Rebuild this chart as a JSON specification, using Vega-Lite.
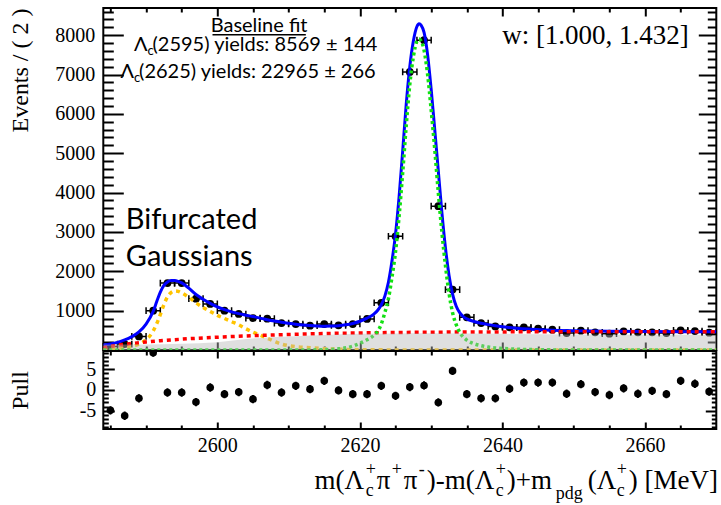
{
  "$schema": "https://vega.github.io/schema/vega-lite/v6.json",
  "autosize": {"type": "pad"},
  "padding": {"left": 7.3, "top": 6, "right": 0, "bottom": 0},
  "background": "white",
  "spacing": 1,
  "bounds": "flush",
  "config": {
    "view": {"stroke": "black", "strokeWidth": 2},
    "axis": {"domain": false, "grid": false, "labelFont": "Liberation Serif", "labelFontSize": 20, "labelColor": "black", "tickColor": "black", "tickWidth": 2, "titleFont": "Liberation Serif", "titleFontWeight": "normal", "titleColor": "black", "zindex": 1, "title": null, "format": "d"}
  },
  "datasets": {
    "pts": [
      {"m":2585,"n":90},{"m":2587,"n":150},{"m":2589,"n":346},{"m":2591,"n":1000},{"m":2593,"n":1700},{"m":2595,"n":1700},{"m":2597,"n":1305},{"m":2599,"n":1170},{"m":2601,"n":1000},{"m":2603,"n":915},{"m":2605,"n":812},{"m":2607,"n":797},{"m":2609,"n":685},{"m":2611,"n":660},{"m":2613,"n":618},{"m":2615,"n":660},{"m":2617,"n":626},{"m":2619,"n":660},{"m":2621,"n":790},{"m":2623,"n":1200},{"m":2625,"n":2890},{"m":2627,"n":7066},{"m":2629,"n":7873},{"m":2631,"n":3655},{"m":2633,"n":1535},{"m":2635,"n":830},{"m":2637,"n":685},{"m":2639,"n":600},{"m":2641,"n":575},{"m":2643,"n":575},{"m":2645,"n":542},{"m":2647,"n":517},{"m":2649,"n":430},{"m":2651,"n":491},{"m":2653,"n":450},{"m":2655,"n":415},{"m":2657,"n":473},{"m":2659,"n":448},{"m":2661,"n":448},{"m":2663,"n":430},{"m":2665,"n":500},{"m":2667,"n":480},{"m":2669,"n":440}
    ],
    "pull": [
      {"m":2585,"p":-4.9},{"m":2587,"p":-6.2},{"m":2589,"p":-2.0},{"m":2591,"p":9.0},{"m":2593,"p":-0.6},{"m":2595,"p":-0.6},{"m":2597,"p":-2.9},{"m":2599,"p":0.6},{"m":2601,"p":-1.0},{"m":2603,"p":-0.5},{"m":2605,"p":-2.2},{"m":2607,"p":1.2},{"m":2609,"p":-0.6},{"m":2611,"p":1.0},{"m":2613,"p":0.2},{"m":2615,"p":2.2},{"m":2617,"p":-0.1},{"m":2619,"p":-1.0},{"m":2621,"p":-1.0},{"m":2623,"p":1.0},{"m":2625,"p":-1.4},{"m":2627,"p":0.7},{"m":2629,"p":1.1},{"m":2631,"p":-3.0},{"m":2633,"p":4.6},{"m":2635,"p":-1.0},{"m":2637,"p":-2.0},{"m":2639,"p":-2.0},{"m":2641,"p":0.3},{"m":2643,"p":1.8},{"m":2645,"p":1.8},{"m":2647,"p":1.8},{"m":2649,"p":-0.9},{"m":2651,"p":1.4},{"m":2653,"p":-0.5},{"m":2655,"p":-1.2},{"m":2657,"p":0.4},{"m":2659,"p":-0.9},{"m":2661,"p":-0.2},{"m":2663,"p":-1.0},{"m":2665,"p":2.2},{"m":2667,"p":1.5},{"m":2669,"p":-0.4}
    ],
    "total": [
      {"m":2584,"v":130},{"m":2585,"v":155},{"m":2586,"v":195},{"m":2587,"v":255},{"m":2588,"v":340},{"m":2589,"v":460},{"m":2590,"v":660},{"m":2591,"v":980},{"m":2591.5,"v":1230},{"m":2592,"v":1470},{"m":2592.5,"v":1640},{"m":2593,"v":1730},{"m":2593.5,"v":1765},{"m":2594,"v":1765},{"m":2594.5,"v":1745},{"m":2595,"v":1705},{"m":2596,"v":1570},{"m":2597,"v":1410},{"m":2598,"v":1290},{"m":2599,"v":1185},{"m":2600,"v":1095},{"m":2601,"v":1025},{"m":2602,"v":970},{"m":2603,"v":925},{"m":2604,"v":885},{"m":2605,"v":850},{"m":2606,"v":810},{"m":2607,"v":770},{"m":2608,"v":735},{"m":2609,"v":705},{"m":2610,"v":680},{"m":2611,"v":655},{"m":2612,"v":635},{"m":2613,"v":620},{"m":2614,"v":610},{"m":2615,"v":605},{"m":2616,"v":607},{"m":2617,"v":618},{"m":2618,"v":640},{"m":2619,"v":675},{"m":2620,"v":730},{"m":2621,"v":810},{"m":2622,"v":920},{"m":2622.5,"v":1010},{"m":2623,"v":1150},{"m":2623.5,"v":1370},{"m":2624,"v":1720},{"m":2624.5,"v":2260},{"m":2625,"v":2950},{"m":2625.5,"v":3900},{"m":2626,"v":5050},{"m":2626.5,"v":6250},{"m":2627,"v":7200},{"m":2627.5,"v":7850},{"m":2628,"v":8220},{"m":2628.3,"v":8290},{"m":2628.6,"v":8250},{"m":2629,"v":8070},{"m":2629.5,"v":7500},{"m":2630,"v":6620},{"m":2630.5,"v":5600},{"m":2631,"v":4550},{"m":2631.5,"v":3500},{"m":2632,"v":2600},{"m":2632.5,"v":1900},{"m":2633,"v":1420},{"m":2633.5,"v":1120},{"m":2634,"v":950},{"m":2634.5,"v":850},{"m":2635,"v":790},{"m":2636,"v":725},{"m":2637,"v":680},{"m":2638,"v":645},{"m":2639,"v":615},{"m":2640,"v":590},{"m":2641,"v":570},{"m":2642,"v":552},{"m":2644,"v":528},{"m":2646,"v":510},{"m":2648,"v":498},{"m":2650,"v":490},{"m":2655,"v":478},{"m":2660,"v":470},{"m":2665,"v":466},{"m":2670,"v":463}
    ],
    "lc2625": [
      {"m":2584,"v":0},{"m":2612,"v":0},{"m":2614,"v":5},{"m":2616,"v":15},{"m":2617,"v":30},{"m":2618,"v":55},{"m":2619,"v":100},{"m":2620,"v":170},{"m":2621,"v":260},{"m":2622,"v":380},{"m":2622.5,"v":480},{"m":2623,"v":660},{"m":2623.5,"v":950},{"m":2624,"v":1300},{"m":2624.5,"v":1850},{"m":2625,"v":2500},{"m":2625.5,"v":3400},{"m":2626,"v":4500},{"m":2626.5,"v":5700},{"m":2627,"v":6750},{"m":2627.5,"v":7450},{"m":2628,"v":7850},{"m":2628.3,"v":7900},{"m":2628.6,"v":7850},{"m":2629,"v":7620},{"m":2629.5,"v":7000},{"m":2630,"v":6100},{"m":2630.5,"v":5100},{"m":2631,"v":4000},{"m":2631.5,"v":3000},{"m":2632,"v":2150},{"m":2632.5,"v":1450},{"m":2633,"v":950},{"m":2633.5,"v":650},{"m":2634,"v":450},{"m":2635,"v":250},{"m":2636,"v":160},{"m":2637,"v":110},{"m":2638,"v":75},{"m":2640,"v":40},{"m":2642,"v":20},{"m":2645,"v":8},{"m":2650,"v":0},{"m":2670,"v":0}
    ],
    "lc2595": [
      {"m":2584,"v":15},{"m":2586,"v":40},{"m":2588,"v":90},{"m":2589,"v":150},{"m":2590,"v":260},{"m":2591,"v":480},{"m":2592,"v":900},{"m":2592.5,"v":1150},{"m":2593,"v":1350},{"m":2593.5,"v":1460},{"m":2594,"v":1500},{"m":2594.5,"v":1490},{"m":2595,"v":1450},{"m":2596,"v":1340},{"m":2597,"v":1200},{"m":2598,"v":1080},{"m":2599,"v":980},{"m":2600,"v":880},{"m":2601,"v":800},{"m":2602,"v":720},{"m":2603,"v":640},{"m":2604,"v":540},{"m":2605,"v":450},{"m":2606,"v":380},{"m":2607,"v":300},{"m":2608,"v":220},{"m":2609,"v":150},{"m":2610,"v":110},{"m":2611,"v":85},{"m":2613,"v":60},{"m":2615,"v":35},{"m":2618,"v":15},{"m":2622,"v":5},{"m":2630,"v":0},{"m":2670,"v":0}
    ],
    "bkg": [
      {"m":2584,"v":60},{"m":2586,"v":120},{"m":2588,"v":165},{"m":2590,"v":205},{"m":2592,"v":235},{"m":2595,"v":275},{"m":2600,"v":325},{"m":2605,"v":365},{"m":2610,"v":395},{"m":2615,"v":418},{"m":2620,"v":433},{"m":2625,"v":445},{"m":2630,"v":452},{"m":2640,"v":460},{"m":2650,"v":463},{"m":2660,"v":463},{"m":2670,"v":462}
    ],
    "shade": [
      {"m":2584,"v":140},{"m":2590,"v":140},{"m":2595,"v":160},{"m":2600,"v":200},{"m":2605,"v":290},{"m":2610,"v":340},{"m":2615,"v":380},{"m":2620,"v":410},{"m":2625,"v":420},{"m":2630,"v":425},{"m":2640,"v":410},{"m":2650,"v":395},{"m":2660,"v":385},{"m":2670,"v":380}
    ]
  },
  "vconcat": [
    {
      "width": 613,
      "height": 342,
      "resolve": {"axis": {"x": "independent", "y": "independent"}},
      "layer": [
        {
          "data": {"name": "pts"},
          "mark": {"type": "circle", "size": 60, "color": "black", "opacity": 1},
          "encoding": {
            "x": {"field": "m", "type": "quantitative", "scale": {"domain": [2584, 2670], "nice": false, "zero": false}, "axis": {"orient": "bottom", "values": [2600, 2620, 2640, 2660], "tickSize": -8, "labels": false}},
            "y": {"field": "n", "type": "quantitative", "scale": {"domain": [0, 8690], "nice": false, "zero": false}, "axis": {"orient": "left", "values": [1000, 2000, 3000, 4000, 5000, 6000, 7000, 8000], "tickSize": -20, "labelPadding": 28.5, "title": "Events / ( 2 )", "titleFontSize": 24, "titleAngle": 270, "titleAnchor": "end", "titleAlign": "right", "titleBaseline": "alphabetic", "titleX": -76, "titleY": 0}}
          }
        },
        {
          "data": {"name": "pts"},
          "mark": {"type": "point", "shape": "M -1 0 L 1 0 M -1 -0.47 L -1 0.47 M 1 -0.47 L 1 0.47", "size": 203, "filled": false, "stroke": "black", "strokeWidth": 1.5, "opacity": 1},
          "encoding": {
            "x": {"field": "m", "type": "quantitative", "scale": {"domain": [2584, 2670], "nice": false, "zero": false}, "axis": {"orient": "bottom", "values": [2585, 2590, 2595, 2605, 2610, 2615, 2625, 2630, 2635, 2645, 2650, 2655, 2665], "tickSize": -4, "labels": false}},
            "y": {"field": "n", "type": "quantitative", "scale": {"domain": [0, 8690], "nice": false, "zero": false}, "axis": {"orient": "left", "values": [200,400,600,800,1200,1400,1600,1800,2200,2400,2600,2800,3200,3400,3600,3800,4200,4400,4600,4800,5200,5400,5600,5800,6200,6400,6600,6800,7200,7400,7600,7800,8200,8400,8600], "tickSize": -10, "labels": false}}
          }
        },
        {
          "data": {"name": "total"},
          "mark": {"type": "line", "color": "#0000ff", "strokeWidth": 3, "interpolate": "monotone", "clip": true},
          "encoding": {
            "x": {"field": "m", "type": "quantitative", "scale": {"domain": [2584, 2670], "nice": false, "zero": false}, "axis": {"orient": "top", "values": [2600, 2620, 2640, 2660], "tickSize": -8, "labels": false}},
            "y": {"field": "v", "type": "quantitative", "scale": {"domain": [0, 8690], "nice": false, "zero": false}, "axis": {"orient": "right", "values": [1000, 2000, 3000, 4000, 5000, 6000, 7000, 8000], "tickSize": -18, "labels": false}}
          }
        },
        {
          "data": {"name": "lc2595"},
          "mark": {"type": "line", "color": "#ffc400", "strokeWidth": 3.5, "strokeDash": [4, 4], "interpolate": "monotone", "clip": true},
          "encoding": {
            "x": {"field": "m", "type": "quantitative", "scale": {"domain": [2584, 2670], "nice": false, "zero": false}, "axis": {"orient": "top", "values": [2585, 2590, 2595, 2605, 2610, 2615, 2625, 2630, 2635, 2645, 2650, 2655, 2665], "tickSize": -4, "labels": false}},
            "y": {"field": "v", "type": "quantitative", "scale": {"domain": [0, 8690], "nice": false, "zero": false}, "axis": {"orient": "right", "values": [200,400,600,800,1200,1400,1600,1800,2200,2400,2600,2800,3200,3400,3600,3800,4200,4400,4600,4800,5200,5400,5600,5800,6200,6400,6600,6800,7200,7400,7600,7800,8200,8400,8600], "tickSize": -9, "labels": false}}
          }
        },
        {
          "data": {"name": "bkg"},
          "mark": {"type": "line", "color": "#ff0000", "strokeWidth": 3.5, "strokeDash": [4, 4], "interpolate": "monotone", "clip": true},
          "encoding": {
            "x": {"field": "m", "type": "quantitative", "axis": null},
            "y": {"field": "v", "type": "quantitative", "axis": null}
          }
        },
        {
          "data": {"name": "lc2625"},
          "mark": {"type": "line", "color": "#11e011", "strokeWidth": 3.5, "strokeDash": [3, 3], "interpolate": "monotone", "clip": true},
          "encoding": {
            "x": {"field": "m", "type": "quantitative", "axis": null},
            "y": {"field": "v", "type": "quantitative", "axis": null}
          }
        },
        {
          "data": {"name": "shade"},
          "mark": {"type": "area", "color": "#b8b8b8", "opacity": 0.45, "interpolate": "monotone", "clip": true},
          "encoding": {
            "x": {"field": "m", "type": "quantitative", "axis": null},
            "y": {"field": "v", "type": "quantitative", "axis": null}
          }
        },
        {
          "data": {"values": [{"m": 2605.86, "v": 8080, "t": "Baseline fit"}]},
          "mark": {"type": "text", "font": "Lato", "fontSize": 20, "align": "center", "baseline": "alphabetic", "color": "black"},
          "encoding": {
            "x": {"field": "m", "type": "quantitative", "axis": null},
            "y": {"field": "v", "type": "quantitative", "axis": null},
            "text": {"field": "t"}
          }
        },
        {
          "data": {"values": [{"m": 2599.32, "m2": 2612.41, "v": 8010}]},
          "mark": {"type": "rule", "color": "black", "strokeWidth": 1.5},
          "encoding": {
            "x": {"field": "m", "type": "quantitative", "axis": null},
            "x2": {"field": "m2"},
            "y": {"field": "v", "type": "quantitative", "axis": null}
          }
        },
        {
          "data": {"values": [{"m": 2590.2, "v": 7597, "t": "Λ"}, {"m": 2588.32, "v": 6904, "t": "Λ"}]},
          "mark": {"type": "text", "font": "Lato", "fontSize": 20, "align": "right", "baseline": "alphabetic", "color": "black"},
          "encoding": {
            "x": {"field": "m", "type": "quantitative", "axis": null},
            "y": {"field": "v", "type": "quantitative", "axis": null},
            "text": {"field": "t"}
          }
        },
        {
          "data": {"values": [{"m": 2590.2, "v": 7495, "t": "c"}, {"m": 2588.32, "v": 6802, "t": "c"}]},
          "mark": {"type": "text", "font": "Lato", "fontSize": 13, "align": "left", "baseline": "alphabetic", "color": "black"},
          "encoding": {
            "x": {"field": "m", "type": "quantitative", "axis": null},
            "y": {"field": "v", "type": "quantitative", "axis": null},
            "text": {"field": "t"}
          }
        },
        {
          "data": {"values": [{"m": 2590.9, "v": 7597, "t": "(2595) yields: 8569 ± 144"}, {"m": 2589.02, "v": 6904, "t": "(2625) yields: 22965 ± 266"}]},
          "mark": {"type": "text", "font": "Lato", "fontSize": 20, "align": "left", "baseline": "alphabetic", "color": "black"},
          "encoding": {
            "x": {"field": "m", "type": "quantitative", "axis": null},
            "y": {"field": "v", "type": "quantitative", "axis": null},
            "text": {"field": "t"}
          }
        },
        {
          "data": {"values": [{"m": 2587.16, "v": 3082, "t": "Bifurcated"}, {"m": 2587.16, "v": 2134, "t": "Gaussians"}]},
          "mark": {"type": "text", "font": "Lato", "fontSize": 29, "align": "left", "baseline": "alphabetic", "color": "black"},
          "encoding": {
            "x": {"field": "m", "type": "quantitative", "axis": null},
            "y": {"field": "v", "type": "quantitative", "axis": null},
            "text": {"field": "t"}
          }
        },
        {
          "data": {"values": [{"m": 2666.14, "v": 7768, "t": "w: [1.000, 1.432]"}]},
          "mark": {"type": "text", "font": "Liberation Serif", "fontSize": 27, "align": "right", "baseline": "alphabetic", "color": "black"},
          "encoding": {
            "x": {"field": "m", "type": "quantitative", "axis": null},
            "y": {"field": "v", "type": "quantitative", "axis": null},
            "text": {"field": "t"}
          }
        }
      ]
    },
    {
      "width": 613,
      "height": 78,
      "resolve": {"axis": {"x": "independent", "y": "independent"}},
      "layer": [
        {
          "data": {"name": "pull"},
          "mark": {"type": "circle", "size": 58, "color": "black", "opacity": 1, "clip": true},
          "encoding": {
            "x": {"field": "m", "type": "quantitative", "scale": {"domain": [2584, 2670], "nice": false, "zero": false}, "axis": {"orient": "bottom", "values": [2600, 2620, 2640, 2660], "tickSize": -7, "labelPadding": 14, "labelBaseline": "top"}},
            "y": {"field": "p", "type": "quantitative", "scale": {"domain": [-9.4, 9.4], "nice": false, "zero": false}, "axis": {"orient": "left", "values": [-5, 0, 5], "tickSize": -11, "labelPadding": 18.5, "labelExpr": "datum.value < 0 ? '-' + abs(datum.value) : '' + datum.value", "title": "Pull", "titleFontSize": 24, "titleAngle": 270, "titleAnchor": "middle", "titleAlign": "center", "titleBaseline": "alphabetic", "titleX": -76}}
          }
        },
        {
          "data": {"name": "pull"},
          "mark": {"type": "point", "shape": "M 0 -1 L 0 1", "size": 69, "filled": false, "stroke": "black", "strokeWidth": 2, "opacity": 1, "clip": true},
          "encoding": {
            "x": {"field": "m", "type": "quantitative", "scale": {"domain": [2584, 2670], "nice": false, "zero": false}, "axis": {"orient": "bottom", "values": [2585, 2590, 2595, 2605, 2610, 2615, 2625, 2630, 2635, 2645, 2650, 2655, 2665], "tickSize": -4, "labels": false}},
            "y": {"field": "p", "type": "quantitative", "scale": {"domain": [-9.4, 9.4], "nice": false, "zero": false}, "axis": {"orient": "left", "values": [-9, -8, -7, -6, -4, -3, -2, -1, 1, 2, 3, 4, 6, 7, 8, 9], "tickSize": -5, "labels": false}}
          }
        },
        {
          "data": {"values": [
            {"m": 2613.63, "u": -23.86, "t": "m(Λ"},
            {"m": 2622.38, "u": -23.86, "t": "π"},
            {"m": 2626.16, "u": -23.86, "t": "π"},
            {"m": 2629.39, "u": -23.86, "t": ")-m(Λ"},
            {"m": 2640.61, "u": -23.86, "t": ")+m"},
            {"m": 2651.97, "u": -23.86, "t": "(Λ"},
            {"m": 2657.73, "u": -23.86, "t": ") [MeV]"}
          ]},
          "mark": {"type": "text", "font": "Liberation Serif", "fontSize": 27, "align": "left", "baseline": "alphabetic", "color": "black"},
          "encoding": {
            "x": {"field": "m", "type": "quantitative", "scale": {"domain": [2584, 2670], "nice": false, "zero": false}, "axis": {"orient": "top", "values": [2600, 2620, 2640, 2660], "tickSize": -7, "labels": false}},
            "y": {"field": "u", "type": "quantitative", "scale": {"domain": [-9.4, 9.4], "nice": false, "zero": false}, "axis": {"orient": "right", "values": [-5, 0, 5], "tickSize": -11, "labels": false}},
            "text": {"field": "t"}
          }
        },
        {
          "data": {"values": [
            {"m": 2620.83, "u": -25.5, "t": "c"},
            {"m": 2639.07, "u": -25.5, "t": "c"},
            {"m": 2656.04, "u": -25.5, "t": "c"},
            {"m": 2647.48, "u": -26.3, "t": "pdg"}
          ]},
          "mark": {"type": "text", "font": "Liberation Serif", "fontSize": 18, "align": "left", "baseline": "alphabetic", "color": "black"},
          "encoding": {
            "x": {"field": "m", "type": "quantitative", "scale": {"domain": [2584, 2670], "nice": false, "zero": false}, "axis": {"orient": "top", "values": [2585, 2590, 2595, 2605, 2610, 2615, 2625, 2630, 2635, 2645, 2650, 2655, 2665], "tickSize": -4, "labels": false}},
            "y": {"field": "u", "type": "quantitative", "scale": {"domain": [-9.4, 9.4], "nice": false, "zero": false}, "axis": {"orient": "right", "values": [-9, -8, -7, -6, -4, -3, -2, -1, 1, 2, 3, 4, 6, 7, 8, 9], "tickSize": -5, "labels": false}},
            "text": {"field": "t"}
          }
        },
        {
          "data": {"values": [
            {"m": 2620.83, "u": -20.5, "t": "+"},
            {"m": 2624.48, "u": -20.5, "t": "+"},
            {"m": 2628.26, "u": -20.5, "t": "-"},
            {"m": 2639.07, "u": -20.5, "t": "+"},
            {"m": 2656.04, "u": -20.5, "t": "+"}
          ]},
          "mark": {"type": "text", "font": "Liberation Serif", "fontSize": 18, "align": "left", "baseline": "alphabetic", "color": "black"},
          "encoding": {
            "x": {"field": "m", "type": "quantitative", "axis": null},
            "y": {"field": "u", "type": "quantitative", "axis": null},
            "text": {"field": "t"}
          }
        }
      ]
    }
  ]
}
